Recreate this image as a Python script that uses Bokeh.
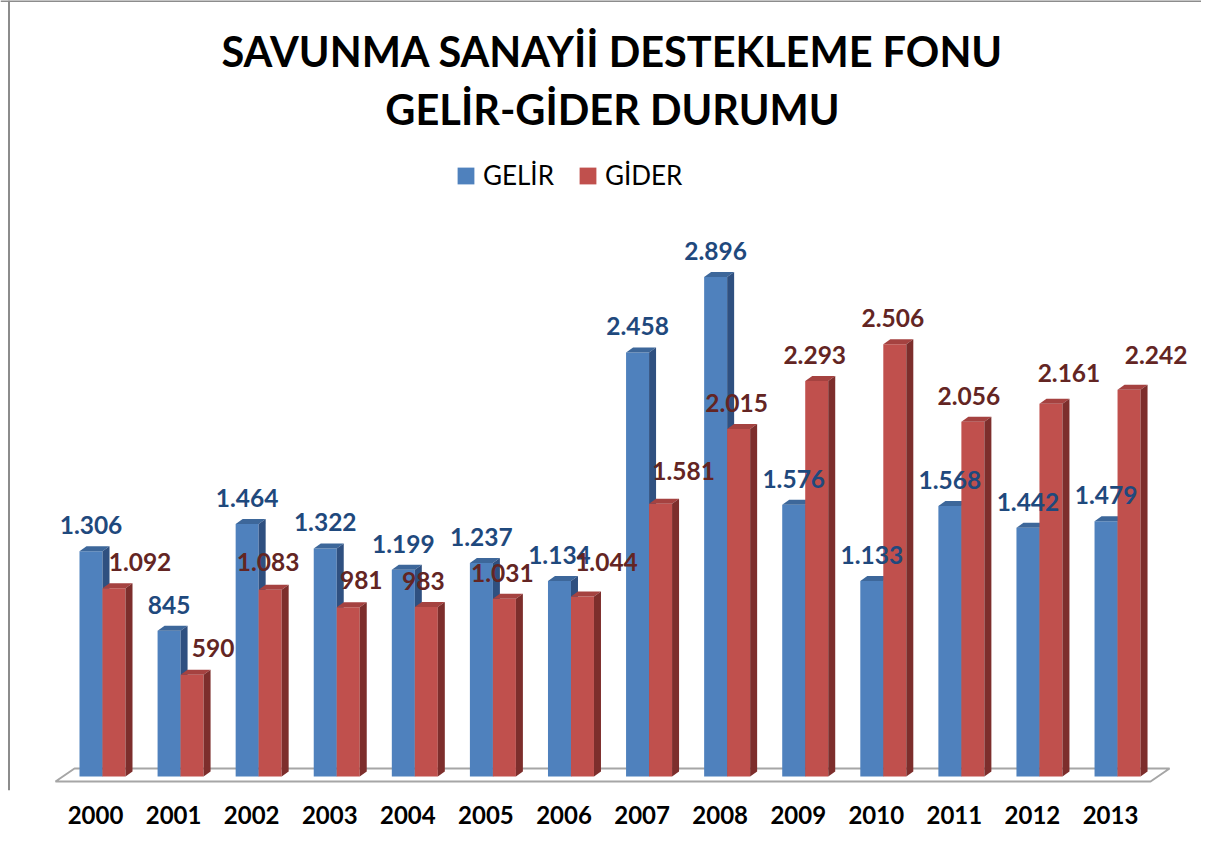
from bokeh.plotting import figure
from bokeh.models import (ColumnDataSource, Label, Legend, LegendItem,
                          FixedTicker, Range1d, Span)
from bokeh.core.properties import value
from bokeh.embed import file_html
from bokeh.resources import INLINE

# ---------------- data ----------------
years = ["2000", "2001", "2002", "2003", "2004", "2005", "2006",
         "2007", "2008", "2009", "2010", "2011", "2012", "2013"]
gelir = [1306, 845, 1464, 1322, 1199, 1237, 1134,
         2458, 2896, 1576, 1133, 1568, 1442, 1479]
gider = [1092, 590, 1083, 981, 983, 1031, 1044,
         1581, 2015, 2293, 2506, 2056, 2161, 2242]
series_names = ["GELİR", "GİDER"]
title_lines = ["SAVUNMA SANAYİİ DESTEKLEME FONU", "GELİR-GİDER DURUMU"]

# ---------------- style / layout (not data) ----------------
# hand placement of the GİDER value labels in the original (screen px)
gider_label_dx = [26, 21, -2, 13, -3, -2, 24, 23, -2, -2, -2, -4, 18, 27]
gider_label_rise = [26, 27, 28, 27, 26, 26, 34, 33, 26, 26, 26, 26, 31, 35]
gelir_label_rise = 26

BLUE, BLUE_TOP, BLUE_SIDE, BLUE_TXT = "#4F81BD", "#3D679A", "#2F5080", "#1F497D"
RED, RED_TOP, RED_SIDE, RED_TXT = "#C0504D", "#A54240", "#7D2E2C", "#632523"
FONT = "Lato"

W, H = 1201, 836
BOTTOM = 46
FRAME_H = H - BOTTOM
PX_X = 78.08      # pixels per category
PX_Y = 0.1725     # pixels per value unit
X0_PX = 95        # frame px of first category
BASE_PX = 14      # frame px (from bottom) of value 0

x_start = -X0_PX / PX_X
x_end = x_start + W / PX_X
y_start = -BASE_PX / PX_Y
y_end = y_start + FRAME_H / PX_Y

n = len(years)
idx = list(range(n))
bw = 23 / PX_X
ddx = 7 / PX_X
ddy = 5 / PX_Y
gelir_c = [i - 16 / PX_X + bw / 2 for i in idx]
gider_c = [c + bw for c in gelir_c]


def fmt(v):
    return f"{v:,}".replace(",", ".")


def faces(centers, vals):
    tops_x, tops_y, side_x, side_y = [], [], [], []
    for c, v in zip(centers, vals):
        l, r = c - bw / 2, c + bw / 2
        tops_x.append([l, r, r + ddx, l + ddx])
        tops_y.append([v, v, v + ddy, v + ddy])
        side_x.append([r, r + ddx, r + ddx, r])
        side_y.append([0, ddy, v + ddy, v])
    return tops_x, tops_y, side_x, side_y


p = figure(width=W, height=H, x_range=Range1d(x_start, x_end),
           y_range=Range1d(y_start, y_end), output_backend="svg",
           toolbar_location=None, y_axis_location=None,
           min_border_left=0, min_border_right=0, min_border_top=0,
           min_border_bottom=BOTTOM)
p.grid.visible = False
p.outline_line_color = None
p.background_fill_color = "white"
p.border_fill_color = "white"

# chart-area border (left and top edges)
p.add_layout(Span(location=x_start + 8.5 / PX_X, dimension="height",
                  line_color="#8C8C8C", line_width=2))
p.add_layout(Span(location=y_end - 0.5 / PX_Y, dimension="width",
                  line_color="#8C8C8C", line_width=2))

# floor
fl_front_y = -5 / PX_Y
fl_back_y = 8 / PX_Y
fl_l = -40 / PX_X
fl_r = (n - 1) + 40 / PX_X
fl_d = 19 / PX_X
p.patch([fl_l, fl_r, fl_r + fl_d, fl_l + fl_d],
        [fl_front_y, fl_front_y, fl_back_y, fl_back_y],
        fill_color="white", line_color="#A6A6A6", line_width=2)

renderers = []
for centers, vals, front, top, side in [
        (gelir_c, gelir, BLUE, BLUE_TOP, BLUE_SIDE),
        (gider_c, gider, RED, RED_TOP, RED_SIDE)]:
    src = ColumnDataSource(dict(x=centers, top=vals))
    r = p.vbar(x="x", top="top", bottom=0, width=bw, source=src,
               fill_color=front, line_color=None)
    renderers.append(r)
    tx, ty, sx, sy = faces(centers, vals)
    p.patches(tx, ty, fill_color=top, line_color=None)
    p.patches(sx, sy, fill_color=side, line_color=None)

# value labels
src_g = ColumnDataSource(dict(x=gelir_c, y=gelir, t=[fmt(v) for v in gelir],
                              yo=[-gelir_label_rise] * n))
p.text(x="x", y="y", text="t", y_offset="yo", source=src_g,
       text_align="center", text_baseline="middle",
       text_font=value(FONT), text_font_style="bold",
       text_font_size="24.5px", text_color=BLUE_TXT)
src_r = ColumnDataSource(dict(x=gider_c, y=gider, t=[fmt(v) for v in gider],
                              xo=gider_label_dx,
                              yo=[-d for d in gider_label_rise]))
p.text(x="x", y="y", text="t", x_offset="xo", y_offset="yo", source=src_r,
       text_align="center", text_baseline="middle",
       text_font=value(FONT), text_font_style="bold",
       text_font_size="24.5px", text_color=RED_TXT)

# axis
ax = p.xaxis[0]
ax.ticker = FixedTicker(ticks=idx)
ax.major_label_overrides = {i: y for i, y in zip(idx, years)}
ax.axis_line_color = None
ax.major_tick_line_color = None
ax.minor_tick_line_color = None
ax.major_label_standoff = 9
ax.major_label_text_font = FONT
ax.major_label_text_font_style = "bold"
ax.major_label_text_font_size = "24px"
ax.major_label_text_color = "black"

# title
for txt, ypx in zip(title_lines, [50, 108]):
    p.add_layout(Label(x=612, y=FRAME_H - ypx, x_units="screen",
                       y_units="screen", text=txt, text_align="center",
                       text_baseline="middle", text_font=FONT,
                       text_font_style="bold", text_font_size="41.5px",
                       text_color="black"))

legend = Legend(items=[LegendItem(label=series_names[0], renderers=[renderers[0]]),
                       LegendItem(label=series_names[1], renderers=[renderers[1]])],
                orientation="horizontal", location=(455, FRAME_H - 191),
                glyph_width=21, glyph_height=21, label_standoff=7, spacing=23,
                padding=0, margin=0, border_line_color=None,
                background_fill_alpha=0, label_text_font=FONT,
                label_text_font_size="26px", label_text_color="black")
p.add_layout(legend)

open("out.html", "w").write(file_html(p, INLINE))
